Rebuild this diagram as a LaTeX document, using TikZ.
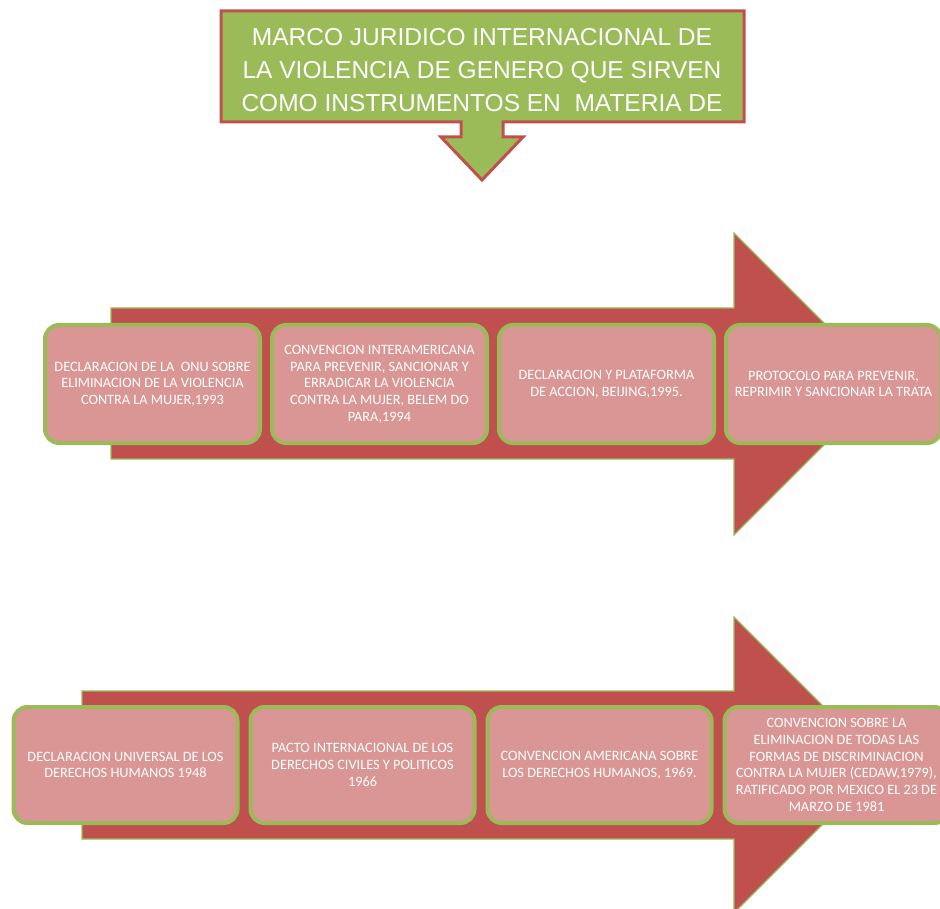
\documentclass[tikz,border=0pt]{standalone}
\usepackage{fontspec}
\setmainfont{Carlito}
\newfontfamily\titlefont{Liberation Sans}
\usetikzlibrary{positioning}

\definecolor{arrowred}{HTML}{C0504D}
\definecolor{leafgreen}{HTML}{9BBB59}
\definecolor{boxpink}{HTML}{D99694}

\tikzset{
  item/.style={draw=leafgreen,line width=4pt,fill=boxpink,rounded corners=14pt,
    text=white,align=center,inner sep=0pt,font=\fontsize{14.3pt}{16.7pt}\selectfont},
  toprow/.style={item,minimum width=215pt,minimum height=118pt},
  lowrow/.style={item,minimum width=224pt,minimum height=116pt},
  bigarrow/.style={fill=arrowred,draw=leafgreen,line width=1.2pt,line join=miter},
}

\begin{document}
\begin{tikzpicture}[x=1pt,y=-1pt]
  \useasboundingbox (0,0) rectangle (940,909);

  % title callout
  \draw [fill=leafgreen,draw=arrowred,line width=3pt]
    (221,11) -- (744,11) -- (744,122) -- (503,122) -- (503,137) -- (523,137)
    -- (482,180) -- (441,137) -- (461,137) -- (461,122) -- (221,122) -- cycle;
  \node [text=white,align=center,font=\titlefont\fontsize{24.5pt}{33pt}\selectfont] (title) at (482,70)
    {MARCO JURIDICO INTERNACIONAL DE\\
     LA VIOLENCIA DE GENERO QUE SIRVEN\\
     COMO INSTRUMENTOS EN\ \ MATERIA DE};

  % upper arrow
  \draw [bigarrow] (111,308) -- (734,308) -- (734,233) -- (885,384)
    -- (734,535) -- (734,459) -- (111,459) -- cycle;

  \node [toprow] (Up_1) at (152.5,384)
    {DECLARACION DE LA\ \ ONU SOBRE\\ ELIMINACION DE LA VIOLENCIA\\ CONTRA LA MUJER,1993};
  \node [toprow,right=8pt of Up_1] (Up_2)
    {CONVENCION INTERAMERICANA\\ PARA PREVENIR, SANCIONAR Y\\ ERRADICAR LA VIOLENCIA\\
     CONTRA LA MUJER, BELEM DO\\ PARA,1994};
  \node [toprow,right=8pt of Up_2] (Up_3)
    {DECLARACION Y PLATAFORMA\\ DE ACCION, BEIJING,1995.};
  \node [toprow,right=8pt of Up_3] (Up_4)
    {PROTOCOLO PARA PREVENIR,\\ REPRIMIR Y SANCIONAR LA TRATA};

  % lower arrow
  \draw [bigarrow] (82,691) -- (734,691) -- (734,617) -- (882,765)
    -- (734,913) -- (734,839) -- (82,839) -- cycle;

  \node [lowrow] (Low_1) at (125.5,765)
    {DECLARACION UNIVERSAL DE LOS\\ DERECHOS HUMANOS 1948};
  \node [lowrow,right=9pt of Low_1] (Low_2)
    {PACTO INTERNACIONAL DE LOS\\ DERECHOS CIVILES Y POLITICOS\\ 1966};
  \node [lowrow,right=9pt of Low_2] (Low_3)
    {CONVENCION AMERICANA SOBRE\\ LOS DERECHOS HUMANOS, 1969.};
  \node [lowrow,right=9pt of Low_3] (Low_4)
    {CONVENCION SOBRE LA\\ ELIMINACION DE TODAS LAS\\ FORMAS DE DISCRIMINACION\\
     CONTRA LA MUJER (CEDAW,1979),\\ RATIFICADO POR MEXICO EL 23 DE\\ MARZO DE 1981};

\end{tikzpicture}
\end{document}
